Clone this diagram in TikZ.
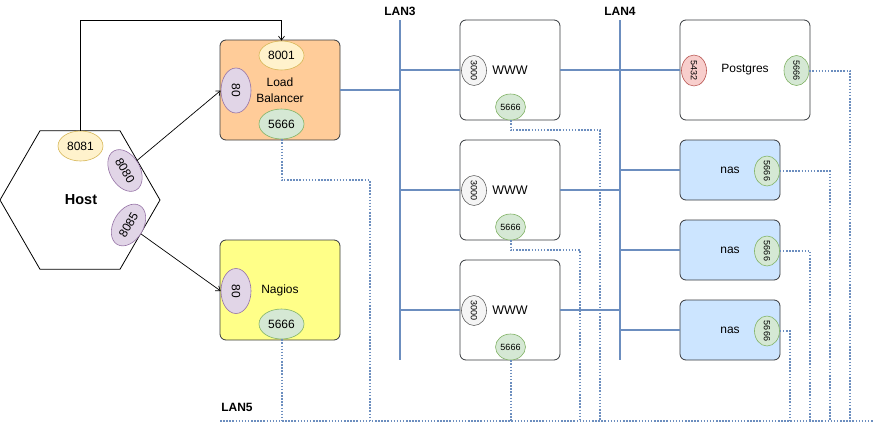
\documentclass[tikz,border=0pt]{standalone}
\usepackage{graphicx}
\usepackage{fontspec}
\setmainfont{Liberation Sans}
\usetikzlibrary{shapes.geometric,arrows.meta}
\definecolor{ylwF}{HTML}{FFF2CC}\definecolor{ylwD}{HTML}{D6B656}
\definecolor{purF}{HTML}{E1D5E7}\definecolor{purD}{HTML}{9673A6}
\definecolor{grnF}{HTML}{D5E8D4}\definecolor{grnD}{HTML}{82B366}
\definecolor{redF}{HTML}{F8CECC}\definecolor{redD}{HTML}{B85450}
\definecolor{gryF}{HTML}{F5F5F5}\definecolor{gryD}{HTML}{666666}
\definecolor{orgF}{HTML}{FFCC99}\definecolor{nagF}{HTML}{FFFF88}
\definecolor{nasF}{HTML}{CCE5FF}\definecolor{boxD}{HTML}{36393D}
\definecolor{lanC}{HTML}{6C8EBF}
\begin{document}
\begin{tikzpicture}[x=1pt,y=-1pt,
  f12/.style={font=\fontsize{12}{16}\selectfont},
  f9/.style={font=\fontsize{9}{11}\selectfont},
  box/.style={draw=boxD, rounded corners=6pt, line width=0.8pt, inner sep=0, align=center, f12},
  port/.style={ellipse, draw, inner sep=0, line width=0.6pt},
  yport/.style={port, fill=ylwF, draw=ylwD, f12},
  pport/.style={port, fill=purF, draw=purD, f12},
  gport/.style={port, fill=grnF, draw=grnD},
  rport/.style={port, fill=redF, draw=redD, f9},
  wport/.style={port, fill=gryF, draw=gryD, f9},
  lan/.style={draw=lanC, line width=2pt},
  mon/.style={draw=lanC, line width=2pt, dash pattern=on 1.5pt off 1.6pt},
  arr/.style={draw=black, line width=0.7pt, -{Straight Barb[length=4pt,width=6pt]}},
  lanlabel/.style={font=\fontsize{12}{14}\selectfont\bfseries}
]
\useasboundingbox (0,0) rectangle (873,423);

% Host
\node[draw, line width=0.8pt, regular polygon, regular polygon sides=6, minimum size=160pt, inner sep=0] (host) at (80,200) {};
\node[font=\fontsize{14.5}{16}\selectfont\bfseries] (hostlabel) at (81,200) {Host};
\node[yport, minimum width=45pt, minimum height=30pt] (h8081) at (80.5,146) {8081};
\node[pport, minimum width=45pt, minimum height=30pt, rotate=-60] (h8080) at (125,170.5) {8080};
\node[pport, minimum width=45pt, minimum height=30pt, rotate=60] (h8085) at (128.5,225) {8085};

% Load balancer
\node[box, fill=orgF, minimum width=120pt, minimum height=100pt] (lb) at (280,90) {Load\\Balancer};
\node[yport, minimum width=45pt, minimum height=29pt] (lb8001) at (281.5,55.5) {8001};
\node[pport, minimum width=30pt, minimum height=45pt] (lb80) at (236,90.5) {\rotatebox{-90}{80}};
\node[gport, f12, minimum width=45pt, minimum height=30pt] (lb5666) at (281.5,124) {5666};

% Nagios
\node[box, fill=nagF, minimum width=120pt, minimum height=100pt] (ng) at (280,290) {Nagios};
\node[pport, minimum width=30pt, minimum height=45pt] (ng80) at (236,291) {\rotatebox{-90}{80}};
\node[gport, f12, minimum width=45pt, minimum height=30pt] (ng5666) at (281.5,324) {5666};

% WWW
\foreach \i/\y in {1/70,2/190,3/310}{
  \node[box, fill=white, minimum width=100pt, minimum height=100pt, font=\fontsize{12.5}{15}\selectfont] (w\i) at (510,\y) {WWW};
  \node[wport, minimum width=25pt, minimum height=30pt] (w\i a) at (474,\y+0.5) {\rotatebox{-90}{3000}};
  \node[gport, f9, minimum width=30pt, minimum height=26pt] (w\i p) at (510.5,\y+37) {5666};
}

% Postgres
\node[box, fill=white, minimum width=130pt, minimum height=100pt] (pg) at (745,70) {Postgres};
\node[rport, minimum width=25pt, minimum height=31pt] (pg5432) at (694,70.5) {\rotatebox{-90}{5432}};
\node[gport, f9, minimum width=25pt, minimum height=30pt] (pg5666) at (796.5,70.5) {\rotatebox{-90}{5666}};

% NAS
\foreach \i/\y in {1/170,2/250,3/330}{
  \node[box, fill=nasF, minimum width=100pt, minimum height=60pt] (n\i) at (730,\y) {nas};
  \node[gport, f9, minimum width=25pt, minimum height=30pt] (n\i p) at (767,\y+1) {\rotatebox{-90}{5666}};
}

% LAN labels
\node[lanlabel] (lab3) at (400,11) {LAN3};
\node[lanlabel] (lab4) at (620,11) {LAN4};
\node[lanlabel] (lab5) at (237,407) {LAN5};

% LAN3 / LAN4 buses
\coordinate (l3t) at (400,20); \coordinate (l3b) at (400,360);
\coordinate (l4t) at (620,20); \coordinate (l4b) at (620,360);
\draw[lan] (l3t) -- (l3b);
\draw[lan] (l4t) -- (l4b);
\draw[lan] (lb.east) -- (lb.east -| l3t);
\draw[lan] (w1.west) -- (w1.west -| l3t);
\draw[lan] (w2.west) -- (w2.west -| l3t);
\draw[lan] (w3.west) -- (w3.west -| l3t);
\draw[lan] (w1.east) -- (pg.west);
\draw[lan] (w2.east) -- (w2.east -| l4t);
\draw[lan] (w3.east) -- (w3.east -| l4t);
\draw[lan] (n1.west) -- (n1.west -| l4t);
\draw[lan] (n2.west) -- (n2.west -| l4t);
\draw[lan] (n3.west) -- (n3.west -| l4t);

% LAN5 monitoring
\coordinate (l5w) at (220,421); \coordinate (l5e) at (873,421);
\coordinate (dLB) at (370,421);
\coordinate (dW1) at (600,421); \coordinate (dW2) at (580,421);
\coordinate (dPG) at (850,421); \coordinate (dN1) at (830,421);
\coordinate (dN2) at (810,421); \coordinate (dN3) at (790,421);
\draw[mon] (l5w) -- (l5e);
\draw[mon] (lb5666.south) -- ++(0,41) -| (dLB);
\draw[mon] (ng5666.south) -- (ng5666.south |- l5w);
\draw[mon] (w1p.south) -- ++(0,10) -| (dW1);
\draw[mon] (w2p.south) -- ++(0,10) -| (dW2);
\draw[mon] (w3p.south) -- (w3p.south |- l5w);
\draw[mon] (pg5666.east) -| (dPG);
\draw[mon] (n1p.east) -| (dN1);
\draw[mon] (n2p.east) -| (dN2);
\draw[mon] (n3p.east) -| (dN3);

% Host arrows
\coordinate (topy) at (0,20.5);
\draw[arr] (h8081.north) -- (h8081.north |- topy) -| (lb8001.north);
\draw[arr] (h8080) -- (lb80.west);
\draw[arr] (h8085) -- (ng80.west);
\end{tikzpicture}
\end{document}
